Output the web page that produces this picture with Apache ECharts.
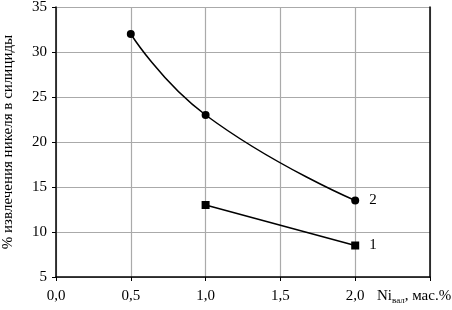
<!DOCTYPE html>
<html>
<head>
<meta charset="utf-8">
<script src="https://cdn.jsdelivr.net/npm/echarts@6/dist/echarts.min.js"></script>
<style>
html, body { margin: 0; padding: 0; background: #fff; }
#chart { width: 452px; height: 310px; }
</style>
</head>
<body>
<div id="chart"></div>
<script>
var curve1 = [[1.0, 13], [2.0, 8.5]],
    curve2 = [[0.5, 32], [1.0, 23], [2.0, 13.5]],
    curveNames = ['1', '2'],
    yTitle = '% извлечения никеля в силициды';

var font = '"Liberation Serif", "Times New Roman", serif';

// подпись номера кривой только у последней точки
function withEndLabel(data, name) {
    return data.map(function (p, i) {
        if (i === data.length - 1) {
            return {
                value: p,
                label: {
                    show: true, position: 'right', distance: 10,
                    formatter: name, fontFamily: font, fontSize: 15, color: '#000'
                }
            };
        }
        return p;
    });
}

var chart = echarts.init(document.getElementById('chart'));
chart.setOption({
    animation: false,
    grid: { left: 56, right: 22, top: 7, bottom: 33, outerBoundsMode: 'none', containLabel: false },
    xAxis: {
        type: 'value',
        min: 0, max: 2.5, interval: 0.5,
        axisLine: { lineStyle: { color: '#000', width: 1.5 } },
        axisTick: { show: true, length: 4, lineStyle: { color: '#000' } },
        axisLabel: {
            margin: 12, fontFamily: font, fontSize: 15, color: '#000',
            formatter: function (v) {
                return v >= 2.5 ? '' : v.toFixed(1).replace('.', ',');
            }
        },
        splitLine: { show: true, lineStyle: { color: '#aaa', width: 1.2 } }
    },
    yAxis: [{
        type: 'value',
        min: 5, max: 35, interval: 5,
        name: yTitle,
        nameLocation: 'middle',
        nameGap: 40,
        nameTextStyle: { fontFamily: font, fontSize: 15, color: '#000' },
        axisLine: { show: true, lineStyle: { color: '#000', width: 1.5 } },
        axisTick: { show: true, length: 4, lineStyle: { color: '#000' } },
        axisLabel: { margin: 9, fontFamily: font, fontSize: 15, color: '#000' },
        splitLine: { show: true, lineStyle: { color: '#aaa', width: 1.2 } }
    }, {
        type: 'value',
        min: 5, max: 35, position: 'right',
        axisLine: { show: true, lineStyle: { color: '#000', width: 1.5 } },
        axisTick: { show: false },
        axisLabel: { show: false },
        splitLine: { show: false }
    }],
    graphic: [{
        type: 'text',
        left: 377, top: 289,
        style: {
            text: '{n|Ni}{s|вал}{n|, мас.%}',
            rich: {
                n: { fontFamily: font, fontSize: 15, fill: '#000' },
                s: { fontFamily: font, fontSize: 9, fill: '#000', padding: [9, 0, 0, 0] }
            }
        }
    }],
    series: [{
        name: curveNames[0],
        type: 'line',
        data: withEndLabel(curve1, curveNames[0]),
        symbol: 'rect', symbolSize: 8,
        lineStyle: { color: '#000', width: 1.5 },
        itemStyle: { color: '#000' }
    }, {
        name: curveNames[1],
        type: 'line',
        smooth: 0.5,
        smoothMonotone: 'none',
        data: withEndLabel(curve2, curveNames[1]),
        symbol: 'circle', symbolSize: 8,
        lineStyle: { color: '#000', width: 1.5 },
        itemStyle: { color: '#000' }
    }]
});
</script>
</body>
</html>
